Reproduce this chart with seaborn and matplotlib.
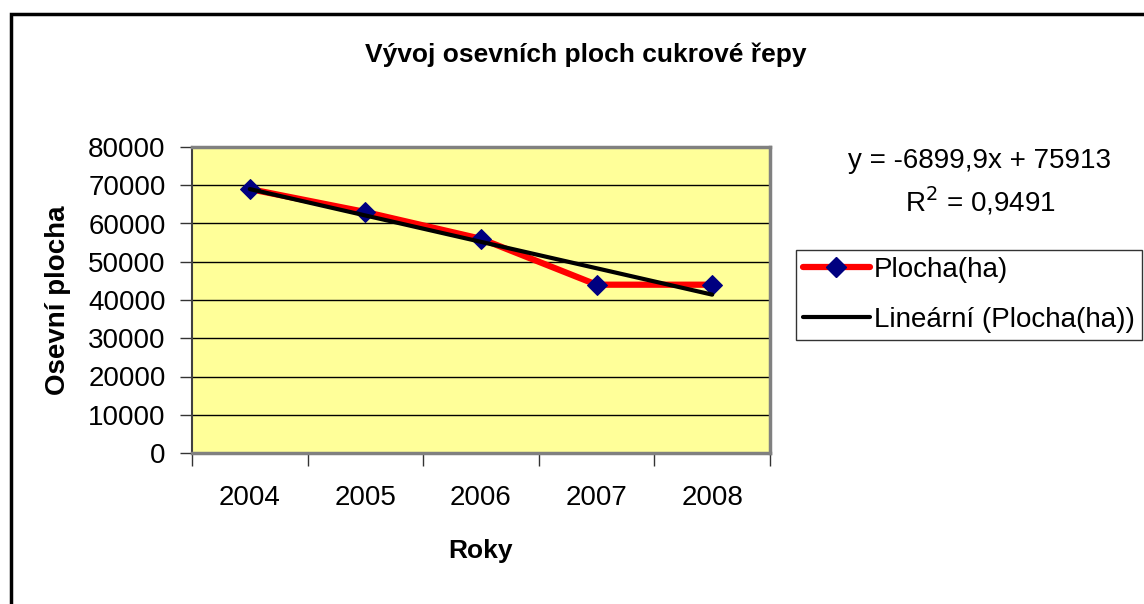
import matplotlib
matplotlib.use("Agg")
import matplotlib.pyplot as plt
import numpy as np
import pandas as pd
import seaborn as sns
from matplotlib.patches import Rectangle
from matplotlib.lines import Line2D

# data
years = ["2004", "2005", "2006", "2007", "2008"]
plocha = [69000, 63000, 56000, 44000, 44000]
y_ticks = [0, 10000, 20000, 30000, 40000, 50000, 60000, 70000, 80000]

df = pd.DataFrame({"x": np.arange(len(years)), "Plocha(ha)": plocha})
slope, intercept = np.polyfit(df["x"] + 1, df["Plocha(ha)"], 1)
df["trend"] = slope * (df["x"] + 1) + intercept

sns.set_style("white")
plt.rcParams["font.family"] = ["Liberation Sans", "DejaVu Sans"]
plt.rcParams["text.color"] = "black"
plt.rcParams["axes.labelcolor"] = "black"
plt.rcParams["xtick.color"] = "black"
plt.rcParams["ytick.color"] = "black"

fig = plt.figure(figsize=(11.44, 6.04), dpi=100)
fig.patch.set_facecolor("white")
ax = fig.add_axes([192/1144, 1-453/604, (770-192)/1144, (453-147)/604])
ax.set_facecolor("#FFFF99")

for v in y_ticks[1:]:
    ax.axhline(v, color="black", lw=1, zorder=1)

sns.lineplot(data=df, x="x", y="Plocha(ha)", ax=ax, color="#FF0000", lw=4.5,
             marker="D", markersize=10, markerfacecolor="#000080",
             markeredgecolor="#000080", zorder=3)
sns.lineplot(data=df, x="x", y="trend", ax=ax, color="black", lw=3,
             solid_capstyle="round", zorder=4)

ax.set_xlim(-0.5, len(years) - 0.5)
ax.set_ylim(0, 80000)
ax.set_yticks(y_ticks)
ax.set_yticklabels([str(v) for v in y_ticks], fontsize=20)
ax.set_xticks(np.arange(-0.5, len(years)), labels=[""] * (len(years) + 1))
ax.set_xticks(np.arange(len(years)), labels=years, minor=True)
ax.tick_params(axis="x", which="major", direction="out", length=9, width=1, color="#333333", bottom=True)
ax.tick_params(axis="x", which="minor", length=0, pad=23, labelsize=20)
ax.tick_params(axis="y", direction="out", length=9, width=1, color="#333333", left=True, pad=10)
for s in ax.spines.values():
    s.set_color("#808080")
    s.set_linewidth(2.5)
ax.spines["left"].set_color("#404040")
ax.spines["left"].set_linewidth(1.5)

ax.set_xlabel("Roky", fontsize=19, fontweight="bold", labelpad=20)
ax.set_ylabel("Osevní plocha", fontsize=20, fontweight="bold", labelpad=12)

fig.text(586/1144, 1-55/604, "Vývoj osevních ploch cukrové řepy", ha="center", va="center",
         fontsize=19, fontweight="bold")

eq = "y = -6899,9x + 75913"
fig.text(980/1144, 1-161/604, eq, ha="center", va="center", fontsize=20)
fig.text(980/1144, 1-201/604, r"R$^2$ = 0,9491", ha="center", va="center", fontsize=20)

handles = [
    Line2D([], [], color="#FF0000", lw=4.5, marker="D", markersize=10,
           markerfacecolor="#000080", markeredgecolor="#000080"),
    Line2D([], [], color="black", lw=3),
]
leg = fig.legend(handles, ["Plocha(ha)", "Lineární (Plocha(ha))"], loc="upper left",
                 bbox_to_anchor=(796/1144, 1-250/604), fontsize=20, frameon=True,
                 fancybox=False, handlelength=2.4, handletextpad=0.15, borderpad=0.25,
                 labelspacing=0.85, borderaxespad=0)
leg.get_frame().set_edgecolor("black")
leg.get_frame().set_linewidth(1)

fig.patches.append(Rectangle((11/1144, -0.1), 1.2, 1 - 14/604 + 0.1, transform=fig.transFigure,
                             fill=False, edgecolor="black", lw=2.5))

fig.savefig("out.png", dpi=100)
